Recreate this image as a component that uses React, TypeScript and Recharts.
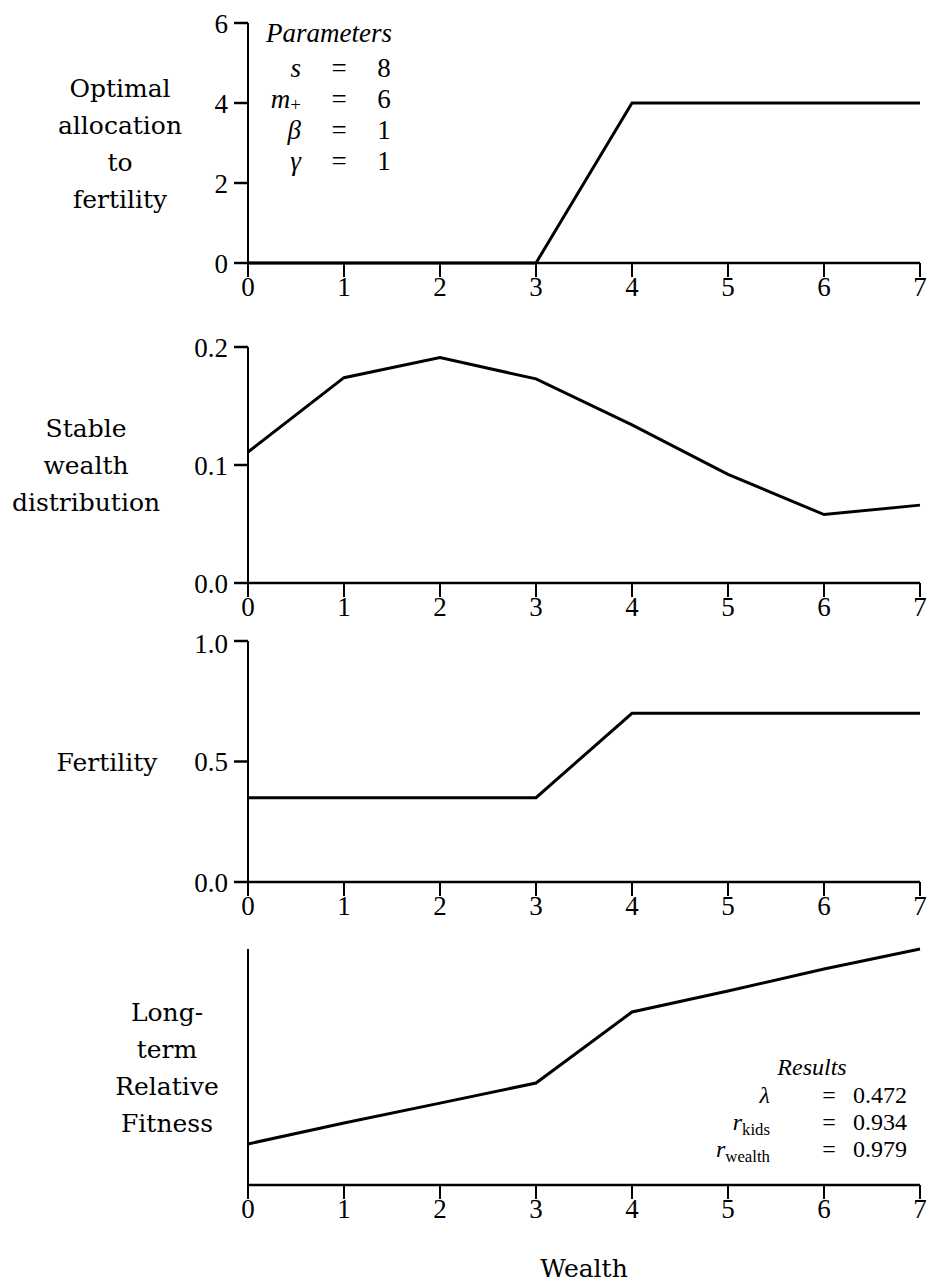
import React from "react";
import { LineChart, Line, XAxis, YAxis, Customized } from "recharts";

// wealth classes on the x axis
const wealth = [0, 1, 2, 3, 4, 5, 6, 7];

// series
const allocation = [0, 0, 0, 0, 4, 4, 4, 4];
const stableDist = [0.111, 0.174, 0.191, 0.173, 0.134, 0.092, 0.058, 0.066];
const fertility = [0.35, 0.35, 0.35, 0.35, 0.7, 0.7, 0.7, 0.7];
const fitness = [0.174, 0.263, 0.347, 0.432, 0.733, 0.822, 0.915, 1.0];

const allocTicks = [0, 2, 4, 6];
const distTicks = [0, 0.1, 0.2];
const fertTicks = [0, 0.5, 1];

const params = [
  { sym: "s", sub: "", val: "8" },
  { sym: "m", sub: "+", val: "6" },
  { sym: "β", sub: "", val: "1" },
  { sym: "γ", sub: "", val: "1" },
];
const results = [
  { sym: "λ", sub: "", val: "0.472" },
  { sym: "r", sub: "kids", val: "0.934" },
  { sym: "r", sub: "wealth", val: "0.979" },
];

const TICK_FONT = "Liberation Serif, DejaVu Serif, serif";
const TITLE_FONT = "DejaVu Serif, serif";
const W = 931;

const toRows = (ys: number[]) => wealth.map((w, i) => ({ w, y: ys[i] }));

function Title({ lines, cx, cy }: { lines: string[]; cx: number; cy: number }) {
  const lh = 37;
  return (
    <text textAnchor="middle" fontFamily={TITLE_FONT} fontSize={25} fill="#000">
      {lines.map((l, i) => (
        <tspan key={l} x={cx} y={cy + 9 + (i - (lines.length - 1) / 2) * lh}>
          {l}
        </tspan>
      ))}
    </text>
  );
}

function Table({
  heading,
  headX,
  headY,
  rows,
  symX,
  eqX,
  valX,
  valAnchor,
  y0,
  dy,
  size,
  subDy,
}: any) {
  return (
    <g fill="#000">
      <text x={headX} y={headY} textAnchor="middle" fontStyle="italic" fontFamily={TICK_FONT} fontSize={size}>
        {heading}
      </text>
      {rows.map((r: any, i: number) => {
        const y = y0 + i * dy;
        return (
          <g key={i} fontFamily={TICK_FONT} fontSize={size}>
            <text x={symX} y={y} textAnchor="end">
              <tspan fontStyle="italic">{r.sym}</tspan>
              {r.sub ? (
                <tspan dy={subDy} fontSize={size * 0.7}>
                  {r.sub}
                </tspan>
              ) : null}
            </text>
            <text x={eqX} y={y} textAnchor="middle">
              =
            </text>
            <text x={valX} y={y} textAnchor={valAnchor}>
              {r.val}
            </text>
          </g>
        );
      })}
    </g>
  );
}

function Panel({
  top,
  height,
  mt,
  xh,
  data,
  domain,
  ticks,
  fmt,
  title,
  titleX,
  extra,
  xLabel,
}: any) {
  const cy = (mt + height - xh) / 2;
  return (
    <div style={{ position: "absolute", left: 0, top }}>
      <LineChart width={W} height={height} data={data} margin={{ top: mt, right: 11, bottom: 0, left: 0 }}>
        <XAxis
          dataKey="w"
          type="number"
          domain={[0, 7]}
          ticks={wealth}
          height={xh}
          tickSize={14}
          tickMargin={0}
          axisLine={{ stroke: "#000", strokeWidth: 2.5 }}
          tickLine={{ stroke: "#000", strokeWidth: 2 }}
          tick={{ fill: "#000", fontSize: 27, fontFamily: TICK_FONT }}
          label={
            xLabel
              ? { value: xLabel, position: "insideBottom", offset: 6, fill: "#000", fontSize: 25, fontFamily: TITLE_FONT }
              : undefined
          }
        />
        <YAxis
          type="number"
          domain={domain}
          ticks={ticks}
          width={248}
          tickSize={14}
          tickMargin={6}
          tickFormatter={fmt}
          axisLine={{ stroke: "#000", strokeWidth: 2 }}
          tickLine={ticks ? { stroke: "#000", strokeWidth: 2.5 } : false}
          tick={ticks ? { fill: "#000", fontSize: 27, fontFamily: TICK_FONT } : false}
        />
        <Line type="linear" dataKey="y" stroke="#000" strokeWidth={3} dot={false} isAnimationActive={false} />
        <Customized
          component={() => (
            <g>
              <Title lines={title} cx={titleX} cy={cy} />
              {extra}
            </g>
          )}
        />
      </LineChart>
    </div>
  );
}

export default function App() {
  return (
    <div style={{ position: "absolute", left: 0, top: 0, width: W, height: 1283, background: "#fff" }}>
      <Panel
        top={0}
        height={307}
        mt={23}
        xh={44}
        data={toRows(allocation)}
        domain={[0, 6]}
        ticks={allocTicks}
        title={["Optimal", "allocation", "to", "fertility"]}
        titleX={120}
        extra={
          <Table
            heading="Parameters"
            headX={329}
            headY={42}
            rows={params}
            symX={301}
            eqX={339}
            valX={384}
            valAnchor="middle"
            y0={77}
            dy={31}
            size={27}
            subDy={3}
          />
        }
      />
      <Panel
        top={314}
        height={313}
        mt={33}
        xh={44}
        data={toRows(stableDist)}
        domain={[0, 0.2]}
        ticks={distTicks}
        fmt={(v: number) => v.toFixed(1)}
        title={["Stable", "wealth", "distribution"]}
        titleX={86}
      />
      <Panel
        top={628}
        height={298}
        mt={13}
        xh={44}
        data={toRows(fertility)}
        domain={[0, 1]}
        ticks={fertTicks}
        fmt={(v: number) => v.toFixed(1)}
        title={["Fertility"]}
        titleX={107}
      />
      <Panel
        top={930}
        height={353}
        mt={19}
        xh={98}
        data={toRows(fitness)}
        domain={[0, 1]}
        ticks={undefined}
        title={["Long-", "term", "Relative", "Fitness"]}
        titleX={167}
        xLabel="Wealth"
        extra={
          <Table
            heading="Results"
            headX={812}
            headY={145}
            rows={results}
            symX={770}
            eqX={829}
            valX={907}
            valAnchor="end"
            y0={173}
            dy={27}
            size={24}
            subDy={5}
          />
        }
      />
    </div>
  );
}
